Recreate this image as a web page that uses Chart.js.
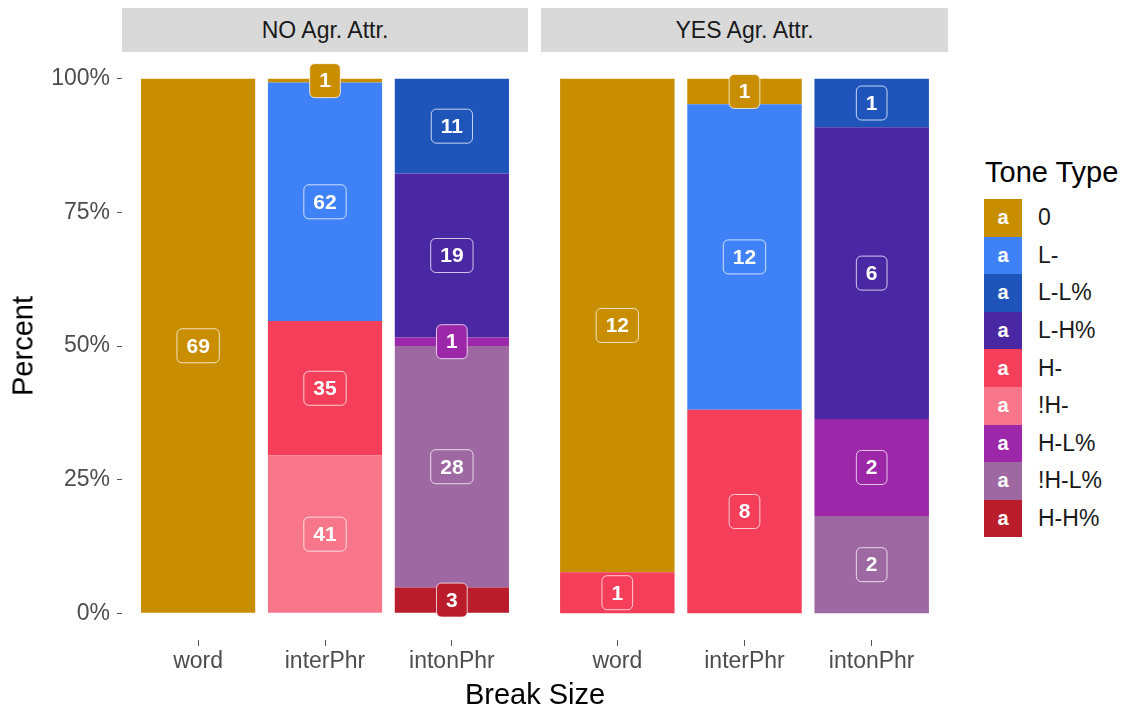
<!DOCTYPE html>
<html>
<head>
<meta charset="utf-8">
<script src="https://cdn.jsdelivr.net/npm/chart.js@4.4.1/dist/chart.umd.min.js"></script>
<style>
  body { margin: 0; background: #fff; font-family: "Liberation Sans", Arial, sans-serif; }
  #wrap { position: relative; width: 1129px; height: 710px; overflow: hidden; }
  canvas { position: absolute; }
  .strip { position: absolute; top: 8px; height: 44px; background: #d9d9d9; color: #1a1a1a;
           font-size: 23px; line-height: 44px; text-align: center; }
  .title { position: absolute; font-size: 29px; color: #000; white-space: nowrap; }
  #legend { position: absolute; left: 984px; top: 199px; }
  .row { height: 37.6px; display: flex; align-items: center; }
  .key { width: 38px; height: 37.6px; color: #fff; font-weight: bold; font-size: 20px;
         display: flex; align-items: center; justify-content: center; }
  .lab { margin-left: 16px; font-size: 23px; color: #1a1a1a; }
</style>
</head>
<body>
<div id="wrap">
  <div class="strip" id="strip0" style="left:122px;width:406px;"></div>
  <div class="strip" id="strip1" style="left:541px;width:407px;"></div>
  <canvas id="noChart" width="528" height="630" style="left:0;top:52px;"></canvas>
  <canvas id="yesChart" width="407" height="630" style="left:541px;top:52px;"></canvas>
  <div class="title" id="yTitle" style="left:23px;top:346px;transform:translate(-50%,-50%) rotate(-90deg);">Percent</div>
  <div class="title" id="xTitle" style="left:535px;top:694px;transform:translate(-50%,-50%);">Break Size</div>
  <div class="title" style="left:985px;top:172px;transform:translateY(-50%);">Tone Type</div>
  <div id="legend"></div>
</div>
<script>
// Categories and legend entries
const breakSizes = ['word', 'interPhr', 'intonPhr'];
const facetLabels = ['NO Agr. Attr.', 'YES Agr. Attr.'];
const toneTypes = ['0', 'L-', 'L-L%', 'L-H%', 'H-', '!H-', 'H-L%', '!H-L%', 'H-H%'];
const toneColors = ['#C88E00', '#3F82F7', '#1F55BA', '#4A28A3', '#F53E5A', '#F7768A', '#9C27A8', '#9E68A3', '#BA1C2B'];

// Counts, one row per tone type (same order as toneTypes), columns = word, interPhr, intonPhr
const noAgrCounts = [
    [69, 1, 0],
    [0, 62, 0],
    [0, 0, 11],
    [0, 0, 19],
    [0, 35, 0],
    [0, 41, 0],
    [0, 0, 1],
    [0, 0, 28],
    [0, 0, 3]
];
const yesAgrCounts = [
    [12, 1, 0],
    [0, 12, 0],
    [0, 0, 1],
    [0, 0, 6],
    [1, 8, 0],
    [0, 0, 0],
    [0, 0, 2],
    [0, 0, 2],
    [0, 0, 0]
];
const yTicks = [0, 25, 50, 75, 100];

Chart.defaults.font.family = '"Liberation Sans", Arial, sans-serif';

document.getElementById('strip0').textContent = facetLabels[0];
document.getElementById('strip1').textContent = facetLabels[1];

// Legend
let legendHtml = '';
for (let i = 0; i < toneTypes.length; i++) {
    legendHtml += '<div class="row"><div class="key" style="background:' + toneColors[i] + '">a</div>' +
                  '<div class="lab">' + toneTypes[i] + '</div></div>';
}
document.getElementById('legend').innerHTML = legendHtml;

// Draws the count labels (like geom_label) in the middle of each segment
const labelPlugin = {
    id: 'segLabels',
    afterDatasetsDraw(chart) {
        const ctx = chart.ctx;
        ctx.save();
        ctx.font = 'bold 21px "Liberation Sans", Arial, sans-serif';
        ctx.textAlign = 'center';
        ctx.textBaseline = 'middle';
        chart.data.datasets.forEach((ds, i) => {
            const meta = chart.getDatasetMeta(i);
            meta.data.forEach((bar, j) => {
                const n = ds.counts[j];
                if (!n) return;
                const cy = (bar.y + bar.base) / 2;
                const text = String(n);
                const w = ctx.measureText(text).width + 19;
                const h = 34;
                ctx.beginPath();
                ctx.roundRect(bar.x - w / 2, cy - h / 2, w, h, 5);
                ctx.fillStyle = ds.backgroundColor;
                ctx.fill();
                ctx.lineWidth = 1;
                ctx.strokeStyle = 'rgba(255,255,255,0.75)';
                ctx.stroke();
                ctx.fillStyle = '#fff';
                ctx.fillText(text, bar.x, cy + 1);
            });
        });
        ctx.restore();
    }
};

function makeChart(canvasId, counts, showY) {
    // totals per break size
    let totals = breakSizes.map((b, j) => counts.reduce((s, row) => s + row[j], 0));

    // first dataset is stacked at the bottom, so reverse the tone order
    let datasets = [];
    for (let i = toneTypes.length - 1; i >= 0; i--) {
        datasets.push({
            label: toneTypes[i],
            backgroundColor: toneColors[i],
            counts: counts[i],
            borderWidth: 0,
            barPercentage: 0.9,
            categoryPercentage: 1,
            data: counts[i].map((c, j) => ({ x: j + 1, y: c ? c / totals[j] * 100 : null }))
        });
    }

    return new Chart(document.getElementById(canvasId), {
        type: 'bar',
        data: { datasets: datasets },
        plugins: [labelPlugin],
        options: {
            responsive: false,
            animation: false,
            devicePixelRatio: 1,
            layout: { padding: 0 },
            plugins: { legend: { display: false }, tooltip: { enabled: false } },
            scales: {
                x: {
                    type: 'linear',
                    min: 0.4,
                    max: 3.6,
                    offset: false,
                    stacked: true,
                    afterBuildTicks: s => { s.ticks = breakSizes.map((b, j) => ({ value: j + 1 })); },
                    afterFit: s => { s.height = 42; s.paddingLeft = 0; s.paddingRight = 0; },
                    ticks: {
                        callback: v => breakSizes[v - 1],
                        font: { size: 23 },
                        color: '#4D4D4D',
                        padding: 2,
                        autoSkip: false,
                        maxRotation: 0
                    },
                    grid: { offset: false, drawOnChartArea: false, drawTicks: true, tickLength: 6, color: '#555' },
                    border: { display: false }
                },
                y: {
                    display: showY,
                    min: -5,
                    max: 105,
                    stacked: true,
                    afterBuildTicks: s => { s.ticks = yTicks.map(v => ({ value: v })); },
                    afterFit: s => { s.width = showY ? 122 : 0; s.paddingTop = 0; s.paddingBottom = 0; },
                    ticks: {
                        callback: v => v + '%',
                        font: { size: 23 },
                        color: '#4D4D4D',
                        padding: 7
                    },
                    grid: { drawOnChartArea: false, drawTicks: true, tickLength: 5, color: '#555' },
                    border: { display: false }
                }
            }
        }
    });
}

makeChart('noChart', noAgrCounts, true);
makeChart('yesChart', yesAgrCounts, false);
</script>
</body>
</html>
